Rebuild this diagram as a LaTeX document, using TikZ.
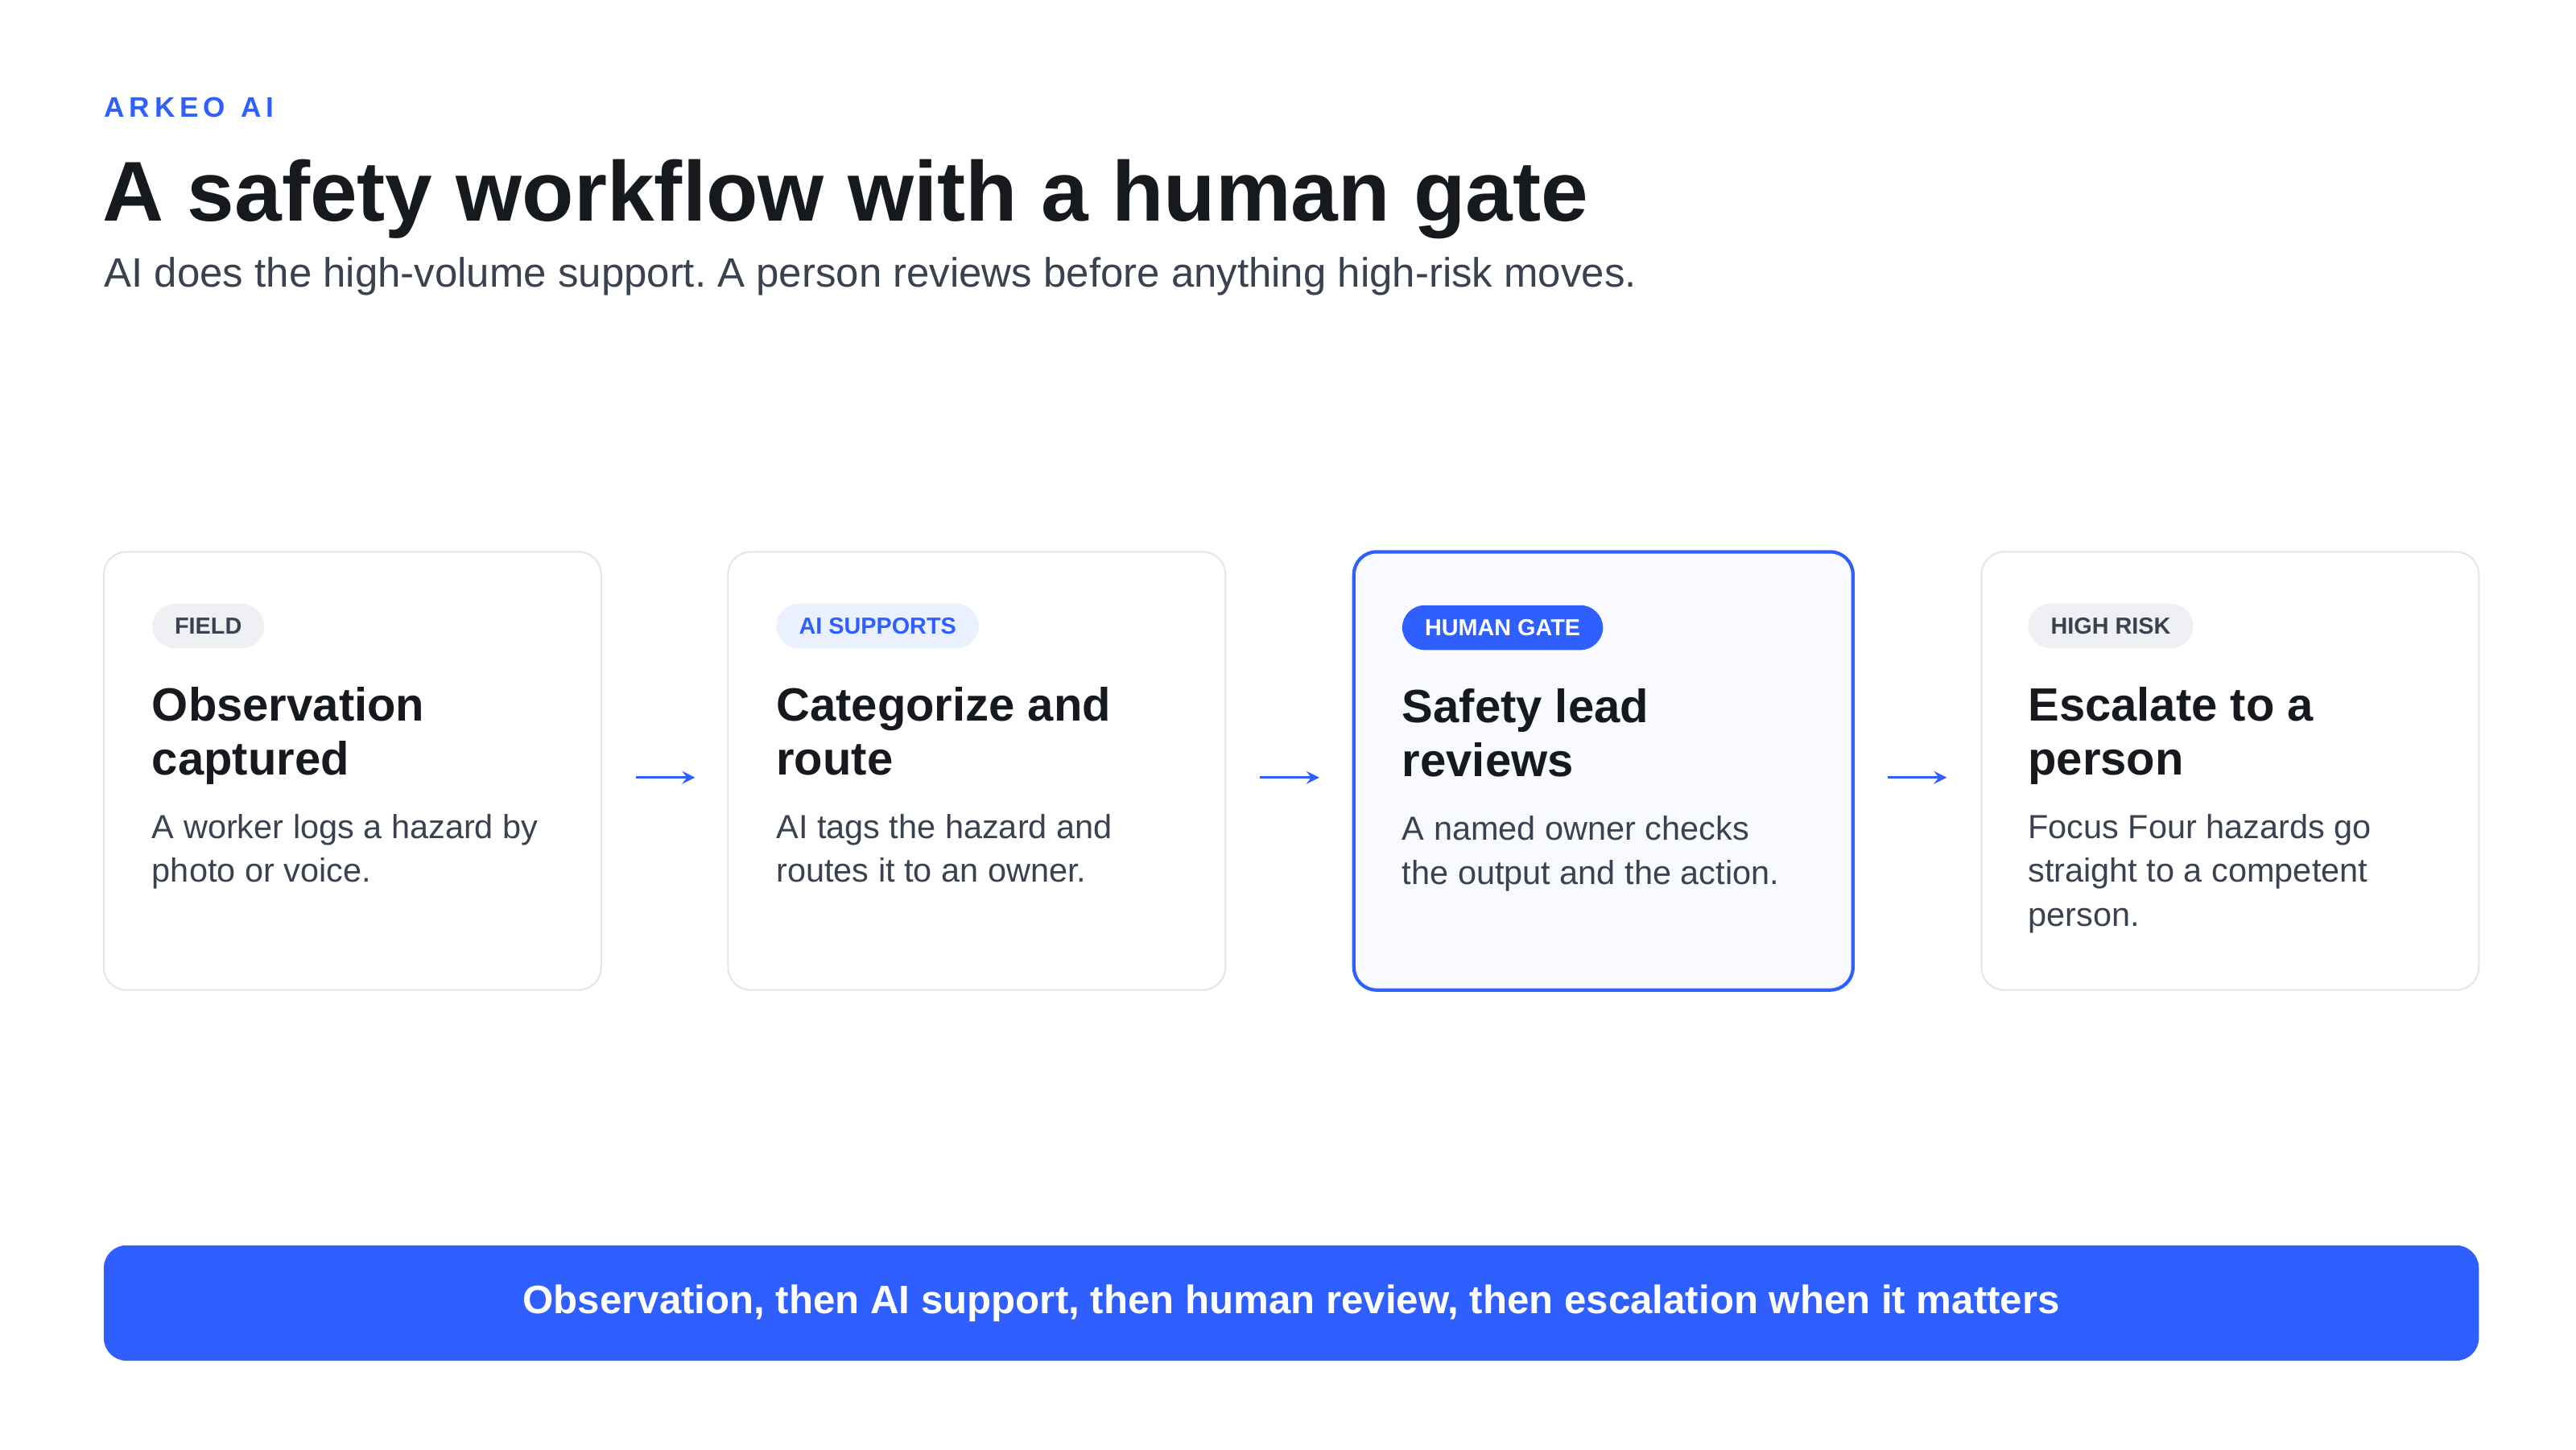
\documentclass[tikz,border=0pt]{standalone}
\usepackage{fontspec}
\setmainfont{Liberation Sans}
\usetikzlibrary{positioning}
\frenchspacing
\definecolor{brand}{HTML}{2F5FFF}
\definecolor{ink}{HTML}{161A1F}
\definecolor{body}{HTML}{3A4250}
\definecolor{edge}{HTML}{E3E6EB}
\definecolor{pillgrey}{HTML}{EEF0F3}
\definecolor{pillblue}{HTML}{EBF0FF}
\definecolor{gatefill}{HTML}{F8FAFF}
\tikzset{
  card/.style={draw=edge, line width=0.6pt, rounded corners=8pt, fill=white},
  pill/.style={rounded corners=8pt, inner xsep=8pt, inner ysep=5pt, font=\fontsize{8.2}{10}\selectfont\bfseries, anchor=west},
  head/.style={anchor=north west, align=left, font=\fontsize{16.5}{19}\selectfont\bfseries, text=ink, inner sep=0pt},
  txt/.style={anchor=north west, align=left, font=\fontsize{11.8}{15.5}\selectfont, text=body, inner sep=0pt},
  flow/.style={->, brand, line width=1pt, >=stealth}
}
\begin{document}
\begin{tikzpicture}[x=0.02046cm, y=-0.02046cm]
			\useasboundingbox[fill=white] (0,0) rectangle (1564,880);

			% Kopf
			\node[anchor=base west, inner sep=0pt, text=brand, font=\fontsize{10}{12}\selectfont\bfseries] (brandname) at (63,71) {A\,R\,K\,E\,O\ \ A\,I};
			\node[anchor=base west, inner sep=0pt, text=ink, font=\fontsize{30}{34}\selectfont\bfseries] (title) at (62,134) {A safety workflow with a human gate};
			\node[anchor=base west, inner sep=0pt, text=body, font=\fontsize{14.5}{17}\selectfont] (subtitle) at (63,174) {AI does the high-volume support. A person reviews before anything high-risk moves.};

			% Karten
			\draw[card] (63,335) rectangle (365,601);
			\draw[card] (442,335) rectangle (744,601);
			\draw[card, draw=brand, line width=1.2pt, fill=gatefill] (822,335) rectangle (1125,601);
			\draw[card] (1203,335) rectangle (1505,601);

			\node[pill, fill=pillgrey, text=body] (tagfield) at (92,380) {FIELD};
			\node[pill, fill=pillblue, text=brand] (tagai) at (471,380) {AI SUPPORTS};
			\node[pill, fill=brand, text=white] (taggate) at (851,381) {HUMAN GATE};
			\node[pill, fill=pillgrey, text=body] (tagrisk) at (1231,380) {HIGH RISK};

			\node[head] (headfield) at (92,417) {Observation\\captured};
			\node[head] (headai) at (471,417) {Categorize and\\route};
			\node[head] (headgate) at (851,418) {Safety lead\\reviews};
			\node[head] (headrisk) at (1231,417) {Escalate to a\\person};

			\node[txt] (txtfield) at (92,494) {A worker logs a hazard by\\photo or voice.};
			\node[txt] (txtai) at (471,494) {AI tags the hazard and\\routes it to an owner.};
			\node[txt] (txtgate) at (851,495) {A named owner checks\\the output and the action.};
			\node[txt] (txtrisk) at (1231,494) {Focus Four hazards go\\straight to a competent\\person.};

			% Pfeile
			\coordinate (a1) at (386,472); \coordinate (b1) at (422,472);
			\coordinate (a2) at (765,472); \coordinate (b2) at (801,472);
			\coordinate (a3) at (1146,472); \coordinate (b3) at (1182,472);
			\draw[flow] (a1) -- (b1);
			\draw[flow] (a2) -- (b2);
			\draw[flow] (a3) -- (b3);

			% Banner
			\fill[brand, rounded corners=8pt] (63,756) rectangle (1505,826);
			\node[text=white, font=\fontsize{14}{16}\selectfont\bfseries] (banner) at (784,791) {Observation, then AI support, then human review, then escalation when it matters};
		\end{tikzpicture}
\end{document}
